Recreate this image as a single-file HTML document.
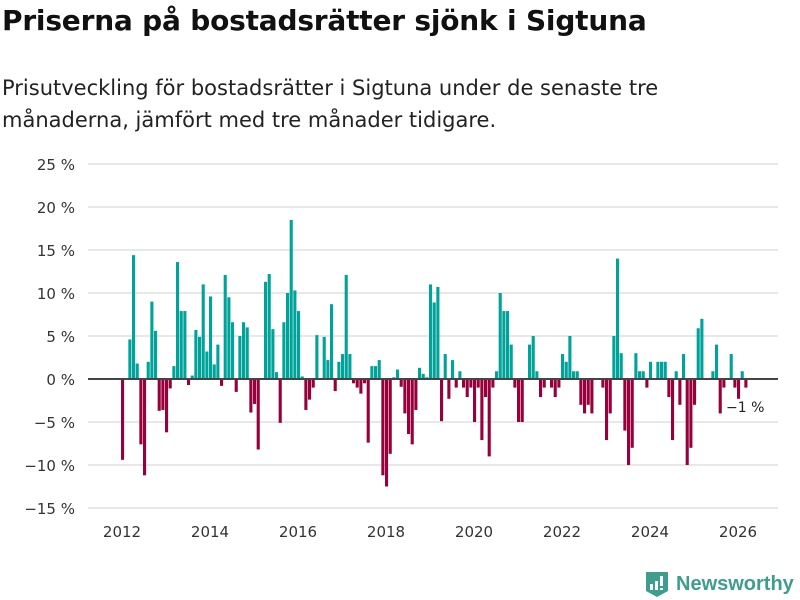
<!DOCTYPE html>
<html><head><meta charset="utf-8"><style>
body{margin:0;background:#fff;width:800px;height:600px;overflow:hidden;font-family:"DejaVu Sans","Liberation Sans",sans-serif;}
#title{position:absolute;left:2px;top:4px;font-size:28px;font-weight:bold;color:#111;margin:0;letter-spacing:-0.2px;white-space:nowrap}
#sub{position:absolute;left:2px;top:72px;font-size:21px;line-height:32px;color:#222;width:700px}
svg{position:absolute;left:0;top:0}
</style></head><body>
<h1 id="title">Priserna på bostadsrätter sjönk i Sigtuna</h1>
<div id="sub">Prisutveckling för bostadsrätter i Sigtuna under de senaste tre<br>månaderna, jämfört med tre månader tidigare.</div>
<svg id="chart" width="800" height="600"></svg>
<script>
const yTicks=[25,20,15,10,5,0,-5,-10,-15];
const yTickLabels=["25 %","20 %","15 %","10 %","5 %","0 %","−5 %","−10 %","−15 %"];
const xTickYears=[2012,2014,2016,2018,2020,2022,2024,2026];
const startYear=2012;
const values=[-9.4,0,4.6,14.4,1.8,-7.6,-11.2,2.0,9.0,5.6,-3.7,-3.6,-6.2,-1.1,1.5,13.6,7.9,7.9,-0.7,0.4,
5.7,4.9,11.0,3.2,9.6,1.7,4.0,-0.8,12.1,9.5,6.6,-1.5,5.0,6.6,6.0,-3.9,-2.9,-8.2,0,11.3,
12.2,5.8,0.8,-5.1,6.6,10.0,18.5,10.3,7.9,0.3,-3.6,-2.4,-1.0,5.1,0,4.9,2.2,8.7,-1.4,2.0,
2.9,12.1,2.9,-0.5,-1.0,-1.7,-0.5,-7.4,1.5,1.5,2.2,-11.2,-12.5,-8.7,0.2,1.1,-0.9,-4.0,-6.4,-7.6,
-3.6,1.3,0.6,0.2,11.0,8.9,10.7,-4.9,2.9,-2.3,2.2,-1.0,0.9,-1.0,-2.1,-1.0,-5.0,-1.0,-7.1,-2.1,
-9.0,-1.0,0.9,10.0,7.9,7.9,4.0,-1.0,-5.0,-5.0,0,4.0,5.0,0.9,-2.1,-1.0,0,-1.0,-2.1,-1.0,
2.9,2.0,5.0,0.9,0.9,-3.0,-4.0,-3.0,-4.0,0,0,-1.0,-7.1,-4.0,5.0,14.0,3.0,-6.0,-10.0,-8.0,
3.0,0.9,0.9,-1.0,2.0,0,2.0,2.0,2.0,-2.1,-7.1,0.9,-3.0,2.9,-10.0,-8.0,-3.0,5.9,7.0,0,
0,0.9,4.0,-4.0,-1.0,0,2.9,-1.0,-2.3,0.9,-1.0];
const lastLabel="−1 %";

const NS="http://www.w3.org/2000/svg";
const svg=document.getElementById('chart');
const y=v=>379-v*8.6;
const x=m=>121+m*(88/24);
function mk(t,a){const e=document.createElementNS(NS,t);for(const k in a)e.setAttribute(k,a[k]);svg.appendChild(e);return e;}
yTicks.forEach((t,i)=>{
  const g=mk('line',{x1:88,x2:778,y1:y(t),y2:y(t),stroke:'#e1e1e1','stroke-width':1.5});
  
  
  const l=mk('text',{x:75,y:y(t)+6,'text-anchor':'end','font-size':15,fill:'#333'});
  l.textContent=yTickLabels[i];
  
  
});
xTickYears.forEach(yr=>{
  const l=mk('text',{x:x((yr-startYear)*12)+1,y:537,'text-anchor':'middle','font-size':15,fill:'#333'});
  l.textContent=yr;
  
  
});
values.forEach((v,i)=>{
  if(v===0)return;
  const r=mk('rect',{x:x(i),width:3.1,y:Math.min(y(v),y(0)),height:Math.abs(y(v)-y(0)),fill:v>0?'#00a39a':'#98003b'});
  
  
});
const z=mk('line',{x1:88,x2:778,y1:y(0),y2:y(0),stroke:'#444','stroke-width':2});


const lab=mk('text',{x:726,y:412,'font-size':14,fill:'#222'});
lab.textContent=lastLabel;


</script>
<div style="position:absolute;left:645px;top:570px;height:28px;display:flex;align-items:center">
<svg width="24" height="28" viewBox="0 0 24 28" style="position:static"><path d="M1 2h22v19l-11 6-11-6z" fill="#3d9e8e"/><rect x="5" y="14" width="3" height="6" fill="#fff"/><rect x="10" y="11" width="3" height="9" fill="#fff"/><rect x="15" y="6" width="3" height="10" fill="#fff"/><rect x="15" y="18" width="3" height="2" fill="#fff"/></svg>
<span style="font-size:20px;font-weight:bold;color:#3d9e8e;margin-left:7px;font-family:'Liberation Sans','DejaVu Sans',sans-serif">Newsworthy</span>
</div>
</body></html>
